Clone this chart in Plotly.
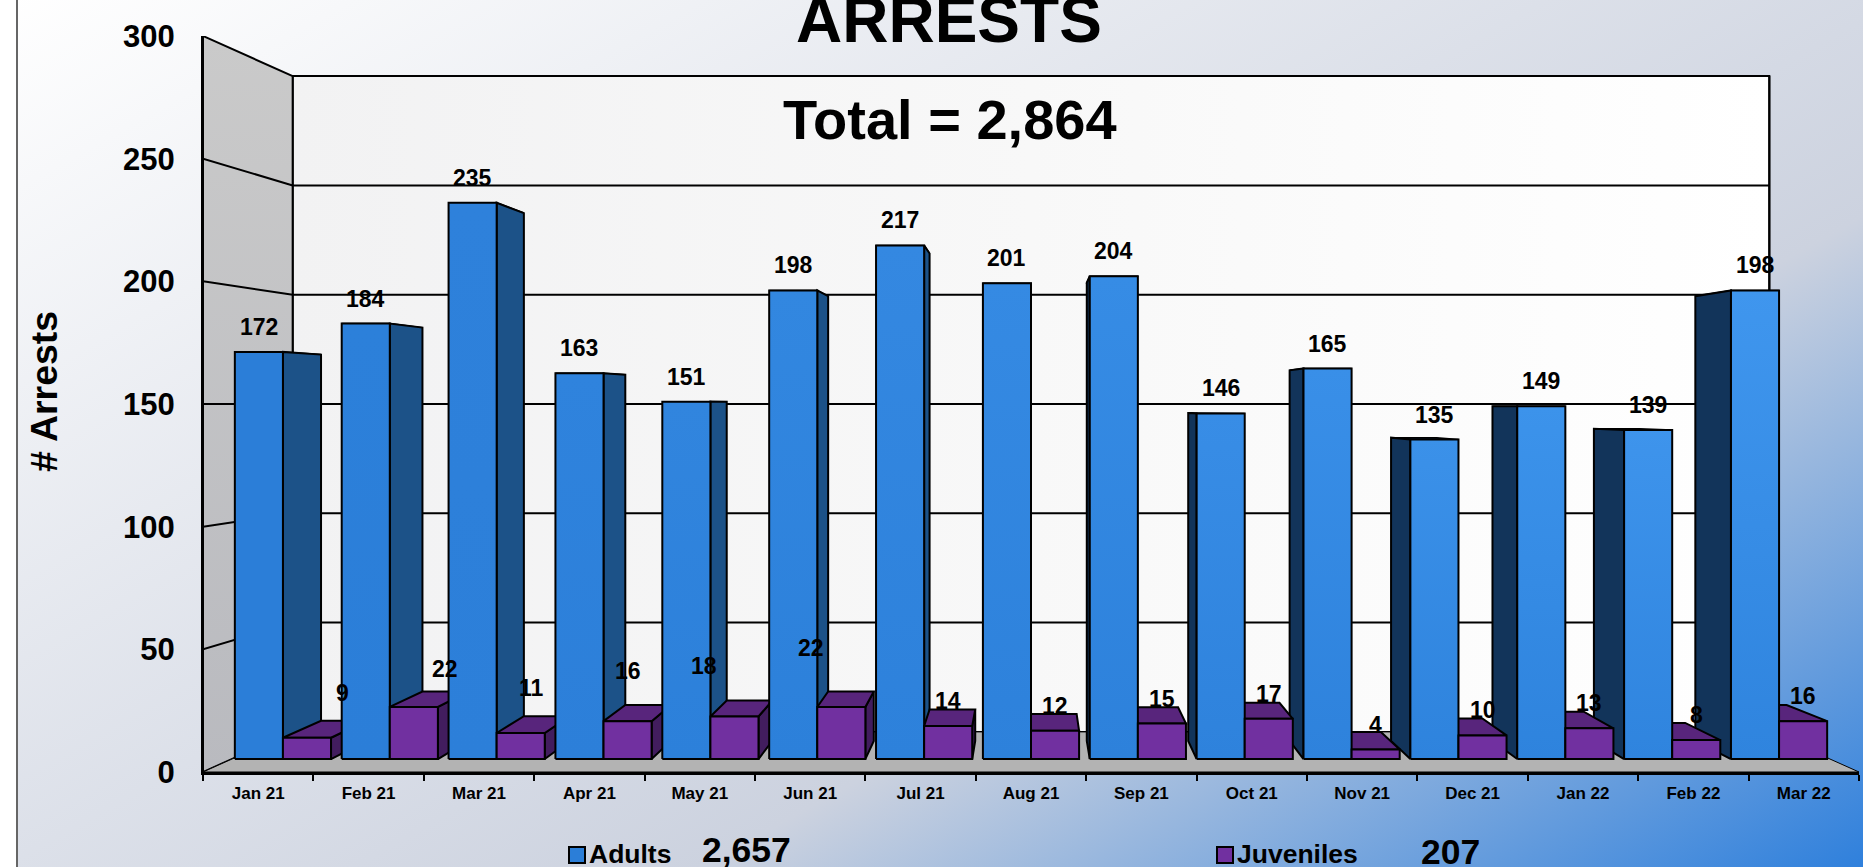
import base64
import plotly.graph_objects as go

# ---------- data ----------
months = ["Jan 21", "Feb 21", "Mar 21", "Apr 21", "May 21", "Jun 21", "Jul 21", "Aug 21",
          "Sep 21", "Oct 21", "Nov 21", "Dec 21", "Jan 22", "Feb 22", "Mar 22"]
adults = [172, 184, 235, 163, 151, 198, 217, 201, 204, 146, 165, 135, 149, 139, 198]
juveniles = [9, 22, 11, 16, 18, 22, 14, 12, 15, 17, 4, 10, 13, 8, 16]
y_ticks = [0, 50, 100, 150, 200, 250, 300]
title_text = "ARRESTS"
total_text = "Total = 2,864"
adults_total = "2,657"
juveniles_total = "207"

# manual label nudges of the first juvenile labels (pixels)
juv_nudge = [(36, 45), (31, 38), (11, 45), (0, 50), (-30, 50), (-30, 59)] + [(0, 25)] * 9

# ---------- page / perspective ----------
W, H = 1863, 867
L, R, T, B = 203, 1859, 36, 772
VX, VY = 7.5, 150.0          # vanishing point in axis units
WALL = (0.8917, 0.891)       # depth of back wall
FRONT = (0.968, 0.9648)      # depth of bar front faces
BACK = (0.9187, 0.9156)      # depth of bar back faces
FONT = "Liberation Sans"


def proj(x, v, s):
    return VX + s[0] * (x - VX), VY + s[1] * (v - VY)


def lerp_hex(a, b, t):
    pa = [int(a[i:i + 2], 16) for i in (1, 3, 5)]
    pb = [int(b[i:i + 2], 16) for i in (1, 3, 5)]
    return "#" + "".join(f"{round(p + (q - p) * t):02x}" for p, q in zip(pa, pb))


fig = go.Figure()


def face(points, color=None, gradient=None, line=2.0):
    xs = [p[0] for p in points] + [points[0][0]]
    ys = [p[1] for p in points] + [points[0][1]]
    kw = {}
    if gradient:
        kw["fillgradient"] = gradient
    else:
        kw["fillcolor"] = color
    fig.add_trace(go.Scatter(x=xs, y=ys, mode="lines", fill="toself",
                             line=dict(color="#000000", width=line),
                             cliponaxis=False, hoverinfo="skip", showlegend=False, **kw))


def seg(points, width=2.0):
    fig.add_trace(go.Scatter(x=[p[0] for p in points], y=[p[1] for p in points], mode="lines",
                             line=dict(color="#000000", width=width), cliponaxis=False,
                             hoverinfo="skip", showlegend=False))


# walls and floor
top_v = y_ticks[-1]
face([proj(0, 0, WALL), proj(15, 0, WALL), proj(15, top_v, WALL), proj(0, top_v, WALL)],
     gradient=dict(type="horizontal", colorscale=[[0, "#f2f2f3"], [0.5, "#f8f8f8"], [1, "#ffffff"]]))
face([(0, 0), proj(0, 0, WALL), proj(0, top_v, WALL), (0, top_v)],
     gradient=dict(type="vertical", colorscale=[[0, "#b9babf"], [1, "#cacaca"]]))
face([(0, 0), (15, 0), proj(15, 0, WALL), proj(0, 0, WALL)], color="#b3b3b3", line=1.0)
for v in y_ticks[1:-1]:
    seg([(0, v), proj(0, v, WALL), proj(15, v, WALL)])
seg([proj(15, 0, WALL), proj(15, top_v, WALL)])

WA, MID, WJ = 0.05, 0.5, 0.95
SIDE_R, SIDE_L = "#1c5288", "#12345a"

# adult tops + sides
for i, v in enumerate(adults):
    x0, x1 = i + WA, i + MID
    face([proj(x0, v, FRONT), proj(x1, v, FRONT), proj(x1, v, BACK), proj(x0, v, BACK)],
         color=SIDE_R if x1 < VX else SIDE_L, line=1.5)
    if x1 < VX:
        face([proj(x1, 0, FRONT), proj(x1, v, FRONT), proj(x1, v, BACK), proj(x1, 0, BACK)], color=SIDE_R)
    elif x0 > VX:
        face([proj(x0, 0, FRONT), proj(x0, v, FRONT), proj(x0, v, BACK), proj(x0, 0, BACK)], color=SIDE_L)

# juvenile sides + tops
for i, v in enumerate(juveniles):
    x0, x1 = i + MID, i + WJ
    if x1 < VX:
        face([proj(x1, 0, FRONT), proj(x1, v, FRONT), proj(x1, v, BACK), proj(x1, 0, BACK)], color="#421d5e")
    face([proj(x0, v, FRONT), proj(x1, v, FRONT), proj(x1, v, BACK), proj(x0, v, BACK)], color="#58257c")

# fronts
for i, v in enumerate(adults):
    x0, x1 = i + WA, i + MID
    top = lerp_hex("#2b7ed8", "#3f96ee", i / 14)
    face([proj(x0, 0, FRONT), proj(x1, 0, FRONT), proj(x1, v, FRONT), proj(x0, v, FRONT)],
         gradient=dict(type="vertical", colorscale=[[0, lerp_hex("#2b7ed8", "#2f84de", i / 14)], [1, top]]))
for i, v in enumerate(juveniles):
    x0, x1 = i + MID, i + WJ
    face([proj(x0, 0, FRONT), proj(x1, 0, FRONT), proj(x1, v, FRONT), proj(x0, v, FRONT)], color="#7130a0")

# ---------- text ----------
ann = []


def px(x):
    return (x - L) / (R - L)


def py(y):
    return (B - y) / (B - T)


def paper_text(text, x, y, size, xanchor="center"):
    ann.append(dict(text=text, x=px(x), y=py(y), xref="paper", yref="paper", showarrow=False,
                    xanchor=xanchor, yanchor="middle",
                    font=dict(family=FONT, size=size, color="#000000", weight=700)))


for i, v in enumerate(adults):
    x, y = proj(i + (WA + MID) / 2, v, FRONT)
    ann.append(dict(text=str(v), x=x, y=y, xref="x", yref="y", showarrow=False, yshift=25,
                    font=dict(family=FONT, size=23, color="#000000", weight=700)))
for i, v in enumerate(juveniles):
    x, y = proj(i + (MID + WJ) / 2, v, FRONT)
    ann.append(dict(text=str(v), x=x, y=y, xref="x", yref="y", showarrow=False,
                    xshift=juv_nudge[i][0], yshift=juv_nudge[i][1],
                    font=dict(family=FONT, size=23, color="#000000", weight=700)))

paper_text(title_text, 949, 20, 64)
paper_text(total_text, 950, 120, 56)
paper_text("Adults", 587, 854, 26.5, "left")
paper_text(adults_total, 746, 850, 35.5)
paper_text("Juveniles", 1235, 854, 26.5, "left")
paper_text(juveniles_total, 1450, 852, 35.5)
ann.append(dict(text="# Arrests", x=px(44), y=py(392), xref="paper", yref="paper", showarrow=False,
                xanchor="center", yanchor="middle", textangle=-90,
                font=dict(family=FONT, size=37.5, color="#000000", weight=700)))

# ---------- background ----------
svg = f"""<svg xmlns='http://www.w3.org/2000/svg' width='{W}' height='{H}' viewBox='0 0 {W} {H}'>
<defs><linearGradient id='g' gradientUnits='userSpaceOnUse' x1='0' y1='0' x2='816' y2='1454'>
<stop offset='0' stop-color='#ffffff'/><stop offset='0.66' stop-color='#ccd2df'/>
<stop offset='1' stop-color='#2f80dc'/></linearGradient></defs>
<rect width='{W}' height='{H}' fill='url(#g)'/>
<rect width='16' height='{H}' fill='#ffffff'/>
<rect x='16' width='2' height='{H}' fill='#666666'/></svg>"""
bg = "data:image/svg+xml;base64," + base64.b64encode(svg.encode()).decode()

shapes = []
for x0, color in ((569, "#2b7ed8"), (1217, "#7130a0")):
    shapes.append(dict(type="rect", xref="paper", yref="paper", x0=px(x0), x1=px(x0 + 16),
                       y0=py(863), y1=py(847), fillcolor=color, line=dict(color="#000000", width=2)))

fig.update_layout(
    width=W, height=H, autosize=False,
    margin=dict(l=L, r=W - R, t=T, b=H - B, pad=0),
    paper_bgcolor="rgba(0,0,0,0)", plot_bgcolor="rgba(0,0,0,0)",
    showlegend=False, annotations=ann, shapes=shapes,
    images=[dict(source=bg, xref="paper", yref="paper", x=px(0), y=py(0),
                 sizex=W / (R - L), sizey=H / (B - T), sizing="stretch",
                 xanchor="left", yanchor="top", layer="below")],
    xaxis=dict(range=[0, 15], tickmode="array", tickvals=[i + 0.5 for i in range(len(months))],
               ticktext=months, ticks="", showgrid=False, zeroline=False,
               showline=True, linecolor="#000000", linewidth=2.5, ticklabelstandoff=4,
               tickfont=dict(family=FONT, size=17, color="#000000", weight=700),
               minor=dict(tickmode="array", tickvals=list(range(len(months) + 1)), ticks="outside",
                          ticklen=6, tickwidth=2, tickcolor="#000000", showgrid=False)),
    yaxis=dict(range=[0, 300], tickmode="array", tickvals=y_ticks, ticks="", showgrid=False,
               zeroline=False, showline=True, linecolor="#000000", linewidth=2,
               ticklabelstandoff=20,
               tickfont=dict(family=FONT, size=31, color="#000000", weight=700)),
)

fig.write_html("out.html", config=dict(displayModeBar=False),
               post_script="document.body.style.margin='0';document.body.style.overflow='hidden';")
